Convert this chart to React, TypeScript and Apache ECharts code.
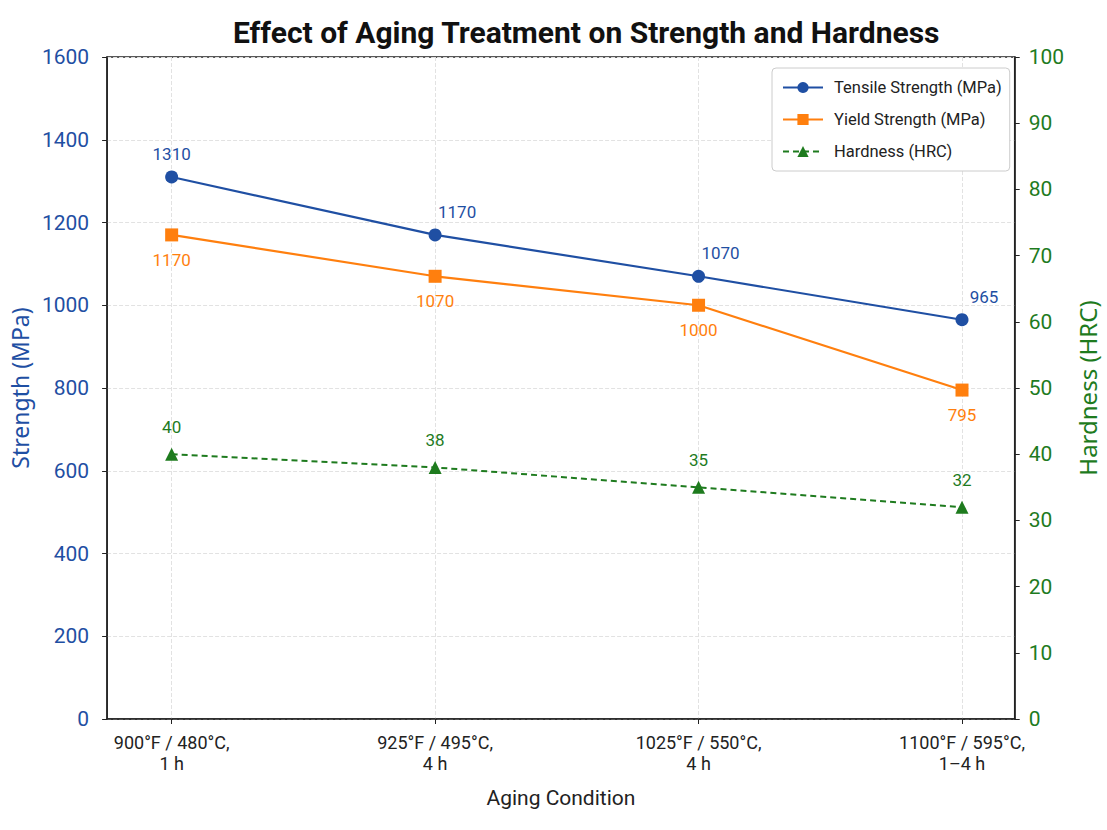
import React, { useEffect, useRef } from "react";
import * as echarts from "echarts";

const categories = [
  "900°F / 480°C,\n1 h",
  "925°F / 495°C,\n4 h",
  "1025°F / 550°C,\n4 h",
  "1100°F / 595°C,\n1–4 h",
];
const tensile = [1310, 1170, 1070, 965];
const yieldStrength = [1170, 1070, 1000, 795];
const hardness = [40, 38, 35, 32];
const seriesNames = ["Tensile Strength (MPa)", "Yield Strength (MPa)", "Hardness (HRC)"];

const BLUE = "#1f4fa3";
const ORANGE = "#ff7f0e";
const GREEN = "#1e7b1e";
const FONT = "Roboto";
const NAME_FONT = "Noto Sans";

export default function App() {
  const ref = useRef<HTMLDivElement>(null);
  useEffect(() => {
    document.body.style.margin = "0";
    const chart = echarts.init(ref.current!, null, { renderer: "svg" });
    const idx = categories.map((_, i) => i);
    chart.setOption({
      animation: false,
      backgroundColor: "#ffffff",
      textStyle: { fontFamily: FONT },
      title: {
        text: "Effect of Aging Treatment on Strength and Hardness",
        left: 228,
        top: 12,
        textStyle: { fontFamily: FONT, fontSize: 30, fontWeight: "bold", color: "#111" },
      },
      grid: {
        left: 104,
        right: 89,
        top: 57,
        bottom: 111,
        show: true,
        borderColor: "#222",
        borderWidth: 1.5,
        backgroundColor: "transparent",
      },
      legend: {
        data: seriesNames,
        orient: "vertical",
        left: 772,
        top: 68,
        padding: [11, 8, 11, 10],
        itemGap: 15,
        itemWidth: 40,
        itemHeight: 14,
        backgroundColor: "#fff",
        borderColor: "#cccccc",
        borderWidth: 1,
        borderRadius: 4,
        textStyle: { fontFamily: FONT, fontSize: 16.5, color: "#222", padding: [0, 0, 0, 6] },
      },
      xAxis: {
        type: "value",
        min: -0.245,
        max: 3.2,
        name: "Aging Condition",
        nameLocation: "middle",
        nameGap: 68,
        nameTextStyle: { fontFamily: FONT, fontSize: 21, color: "#222" },
        axisLine: { lineStyle: { color: "#222", width: 1.5 } },
        axisTick: { show: true, customValues: idx, length: 5, lineStyle: { color: "#222" } },
        axisLabel: {
          customValues: idx,
          formatter: (v: number) => categories[Math.round(v)] ?? "",
          fontFamily: FONT,
          fontSize: 18,
          color: "#222",
          lineHeight: 21,
          margin: 13,
        },
        splitLine: { show: true, lineStyle: { color: "#e2e2e2", type: "dashed" } },
      },
      yAxis: [
        {
          type: "value",
          min: 0,
          max: 1600,
          interval: 200,
          name: "Strength (MPa)",
          nameLocation: "middle",
          nameGap: 68,
          nameTextStyle: { fontFamily: NAME_FONT, fontSize: 23, color: BLUE },
          axisLine: { show: true, onZero: false, lineStyle: { color: "#222", width: 1.5 } },
          axisTick: { show: true, length: 5, lineStyle: { color: "#222" } },
          axisLabel: {
            fontFamily: FONT,
            fontSize: 21,
            color: BLUE,
            margin: 18,
            formatter: (v: number) => String(v),
          },
          splitLine: { show: true, lineStyle: { color: "#e2e2e2", type: "dashed" } },
        },
        {
          type: "value",
          min: 0,
          max: 100,
          interval: 10,
          name: "Hardness (HRC)",
          nameLocation: "middle",
          nameGap: 56,
          nameTextStyle: { fontFamily: NAME_FONT, fontSize: 24, color: GREEN },
          axisLine: { show: true, onZero: false, lineStyle: { color: "#222", width: 1.5 } },
          axisTick: { show: true, length: 5, lineStyle: { color: "#222" } },
          axisLabel: { fontFamily: FONT, fontSize: 21, color: GREEN, margin: 14 },
          splitLine: { show: false },
        },
      ],
      series: [
        {
          name: seriesNames[0],
          type: "line",
          yAxisIndex: 0,
          data: tensile.map((v, i) => ({
            value: [i, v],
            label: i > 0 ? { offset: [22, 0] } : undefined,
          })),
          symbol: "circle",
          symbolSize: 13,
          lineStyle: { color: BLUE, width: 2.2 },
          itemStyle: { color: BLUE },
          label: {
            show: true,
            position: "top",
            distance: 8,
            formatter: (p: any) => String(p.value[1]),
            fontFamily: FONT,
            fontSize: 17,
            color: BLUE,
          },
          z: 3,
        },
        {
          name: seriesNames[1],
          type: "line",
          yAxisIndex: 0,
          data: yieldStrength.map((v, i) => [i, v]),
          symbol: "rect",
          symbolSize: 13,
          lineStyle: { color: ORANGE, width: 2.2 },
          itemStyle: { color: ORANGE },
          label: {
            show: true,
            position: "bottom",
            distance: 10,
            formatter: (p: any) => String(p.value[1]),
            fontFamily: FONT,
            fontSize: 17,
            color: ORANGE,
          },
          z: 2,
        },
        {
          name: seriesNames[2],
          type: "line",
          yAxisIndex: 1,
          data: hardness.map((v, i) => [i, v]),
          symbol: "triangle",
          symbolSize: 13,
          lineStyle: { color: GREEN, width: 2, type: [6, 4] },
          itemStyle: { color: GREEN },
          label: {
            show: true,
            position: "top",
            distance: 12,
            formatter: (p: any) => String(p.value[1]),
            fontFamily: FONT,
            fontSize: 17,
            color: GREEN,
          },
          z: 2,
        },
      ],
    });
    return () => chart.dispose();
  }, []);
  return <div ref={ref} style={{ width: 1107, height: 830 }} />;
}
